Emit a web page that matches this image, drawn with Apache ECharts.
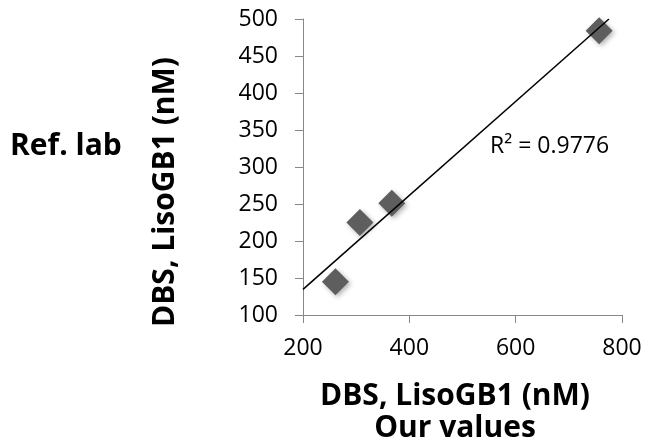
<!DOCTYPE html>
<html><head><meta charset="utf-8">
<script src="https://cdn.jsdelivr.net/npm/echarts@6/dist/echarts.min.js"></script>
<style>html,body{margin:0;padding:0;background:#fff}#c{width:645px;height:446px}</style>
</head><body><div id="c"></div>
<script>
var ourValues = [261, 307, 367, 757];
var refLab = [145, 225, 251, 484];
var xTicks = [200, 400, 600, 800];
var yTicks = [100, 150, 200, 250, 300, 350, 400, 450, 500];
var r2Text = 'R² = 0.9776';

// least squares trendline
var n = ourValues.length, mx = 0, my = 0;
for (var i = 0; i < n; i++) { mx += ourValues[i]; my += refLab[i]; }
mx /= n; my /= n;
var sxy = 0, sxx = 0;
for (var i = 0; i < n; i++) { sxy += (ourValues[i]-mx)*(refLab[i]-my); sxx += (ourValues[i]-mx)*(ourValues[i]-mx); }
var slope = sxy / sxx, icpt = my - slope * mx;
var x0 = 200, x1 = (500 - icpt) / slope;
var trend = [[x0, icpt + slope * x0], [x1, 500]];

var font = '"Open Sans", "Liberation Sans", sans-serif';
var chart = echarts.init(document.getElementById('c'));
chart.setOption({
  animation: false,
  grid: { left: 303, right: 23, top: 19, bottom: 131 },
  xAxis: {
    type: 'value', min: 200, max: 800, interval: 200,
    axisLine: { show: true, lineStyle: { color: '#888', width: 1 } },
    axisTick: { show: true, length: 8, lineStyle: { color: '#888' } },
    splitLine: { show: false },
    axisLabel: { color: '#000', fontSize: 23, fontFamily: font, margin: 22 }
  },
  yAxis: {
    type: 'value', min: 100, max: 500, interval: 50,
    axisLine: { show: true, lineStyle: { color: '#888', width: 1 } },
    axisTick: { show: true, length: 8, lineStyle: { color: '#888' } },
    splitLine: { show: false },
    axisLabel: { color: '#000', fontSize: 23, fontFamily: font, margin: 25 }
  },
  series: [
    {
      type: 'scatter', symbol: 'diamond', symbolSize: 27,
      itemStyle: { color: '#5e5e5e', opacity: 1, shadowColor: 'rgba(0,0,0,0.3)', shadowBlur: 5, shadowOffsetX: 2, shadowOffsetY: 2 },
      data: ourValues.map(function (v, i) { return [v, refLab[i]]; }),
      z: 2
    },
    {
      type: 'line', data: trend, symbol: 'none',
      lineStyle: { color: '#000', width: 1.5 }, z: 3
    }
  ],
  graphic: [
    { type: 'text', x: 490, y: 146, style: { text: r2Text, font: '23px ' + font, fill: '#000', verticalAlign: 'middle' } },
    { type: 'text', x: 10, y: 146, style: { text: 'Ref. lab', font: 'bold 30px ' + font, fill: '#000', verticalAlign: 'middle' } },
    { type: 'text', x: 165, y: 192, rotation: Math.PI / 2, style: { text: 'DBS, LisoGB1 (nM)', font: 'bold 30px ' + font, fill: '#000', align: 'center', verticalAlign: 'middle' } },
    { type: 'text', x: 455, y: 396, style: { text: 'DBS, LisoGB1 (nM)', font: 'bold 30px ' + font, fill: '#000', align: 'center', verticalAlign: 'middle' } },
    { type: 'text', x: 455, y: 428, style: { text: 'Our values', font: 'bold 30px ' + font, fill: '#000', align: 'center', verticalAlign: 'middle' } }
  ]
});
</script></body></html>
